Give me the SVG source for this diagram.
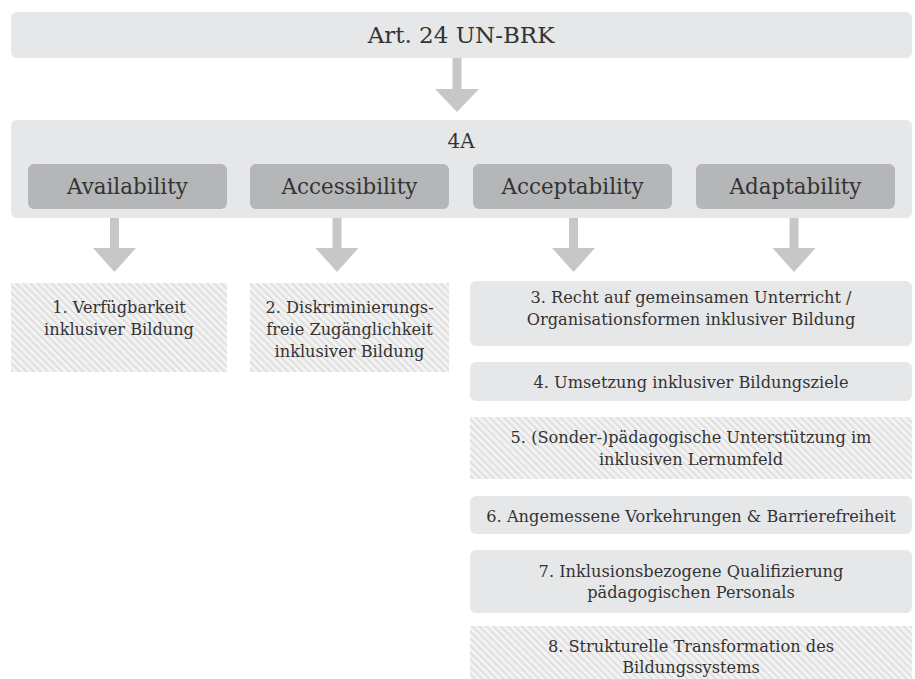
<svg xmlns="http://www.w3.org/2000/svg" width="915" height="679" viewBox="0 0 915 679">
  <style>
    .bar { fill: #e6e7e8; }
    .sub { fill: #b5b6b8; }
    .hatch { fill: url(#hatch); }
    .arrow { fill: #c6c7c8; }
    text { font-family: "DejaVu Serif", "Liberation Serif", serif; fill: #333333; text-anchor: middle; }
    .title { font-size: 23px; }
    .head { font-size: 20px; }
    .label { font-size: 21.4px; }
    .body { font-size: 16.2px; }
  </style>
  <defs>
    <pattern id="hatch" patternUnits="userSpaceOnUse" width="5" height="5" patternTransform="rotate(-45)">
      <rect x="0" y="0" width="5" height="5" fill="#f4f4f4"/>
      <rect x="0" y="0" width="2.2" height="5" fill="#e0e0e0"/>
    </pattern>
  </defs>
  <rect width="915" height="679" fill="#ffffff"/>

  <g id="connectors">
    <polygon class="arrow" points="452.5,58 461.5,58 461.5,89 479,89 457,112 435,89 452.5,89"/>
    <polygon class="arrow" points="110,218 119,218 119,248 136,248 114.5,272 93,248 110,248"/>
    <polygon class="arrow" points="332.5,218 341.5,218 341.5,248 358.5,248 337,272 315.5,248 332.5,248"/>
    <polygon class="arrow" points="569,218 578,218 578,248 595,248 573.5,272 552,248 569,248"/>
    <polygon class="arrow" points="789.5,218 798.5,218 798.5,248 815.5,248 794,272 772.5,248 789.5,248"/>
  </g>

  <g id="art24">
    <rect class="bar" x="11" y="12" width="901" height="46" rx="6"/>
    <text class="title" x="461" y="43">Art. 24 UN-BRK</text>
  </g>

  <g id="fourA">
    <rect class="bar" x="11" y="120" width="901" height="98" rx="6"/>
    <text class="head" x="461" y="148">4A</text>
  </g>

  <g id="availability">
    <rect class="sub" x="28" y="164" width="199" height="45" rx="6"/>
    <text class="label" x="127.5" y="194">Availability</text>
  </g>
  <g id="accessibility">
    <rect class="sub" x="250" y="164" width="199" height="45" rx="6"/>
    <text class="label" x="349.5" y="194">Accessibility</text>
  </g>
  <g id="acceptability">
    <rect class="sub" x="473" y="164" width="199" height="45" rx="6"/>
    <text class="label" x="572.5" y="194">Acceptability</text>
  </g>
  <g id="adaptability">
    <rect class="sub" x="696" y="164" width="199" height="45" rx="6"/>
    <text class="label" x="795.5" y="194">Adaptability</text>
  </g>

  <g id="box1">
    <rect class="hatch" x="11" y="283" width="216" height="89"/>
    <text class="body" x="119" y="313">1. Verfügbarkeit</text>
    <text class="body" x="119" y="335">inklusiver Bildung</text>
  </g>
  <g id="box2">
    <rect class="hatch" x="250" y="283" width="199" height="89"/>
    <text class="body" x="349.5" y="313">2. Diskriminierungs-</text>
    <text class="body" x="349.5" y="335">freie Zugänglichkeit</text>
    <text class="body" x="349.5" y="357">inklusiver Bildung</text>
  </g>
  <g id="box3">
    <rect class="bar" x="470" y="281" width="442" height="65" rx="6"/>
    <text class="body" x="691" y="303">3. Recht auf gemeinsamen Unterricht /</text>
    <text class="body" x="691" y="325">Organisationsformen inklusiver Bildung</text>
  </g>
  <g id="box4">
    <rect class="bar" x="470" y="362" width="442" height="39" rx="6"/>
    <text class="body" x="691" y="388">4. Umsetzung inklusiver Bildungsziele</text>
  </g>
  <g id="box5">
    <rect class="hatch" x="470" y="417" width="442" height="62"/>
    <text class="body" x="691" y="443">5. (Sonder-)pädagogische Unterstützung im</text>
    <text class="body" x="691" y="465">inklusiven Lernumfeld</text>
  </g>
  <g id="box6">
    <rect class="bar" x="470" y="496" width="442" height="38" rx="6"/>
    <text class="body" x="691" y="522">6. Angemessene Vorkehrungen &amp; Barrierefreiheit</text>
  </g>
  <g id="box7">
    <rect class="bar" x="470" y="550" width="442" height="63" rx="6"/>
    <text class="body" x="691" y="577">7. Inklusionsbezogene Qualifizierung</text>
    <text class="body" x="691" y="598">pädagogischen Personals</text>
  </g>
  <g id="box8">
    <rect class="hatch" x="470" y="626" width="442" height="60"/>
    <text class="body" x="691" y="652">8. Strukturelle Transformation des</text>
    <text class="body" x="691" y="673">Bildungssystems</text>
  </g>
</svg>
